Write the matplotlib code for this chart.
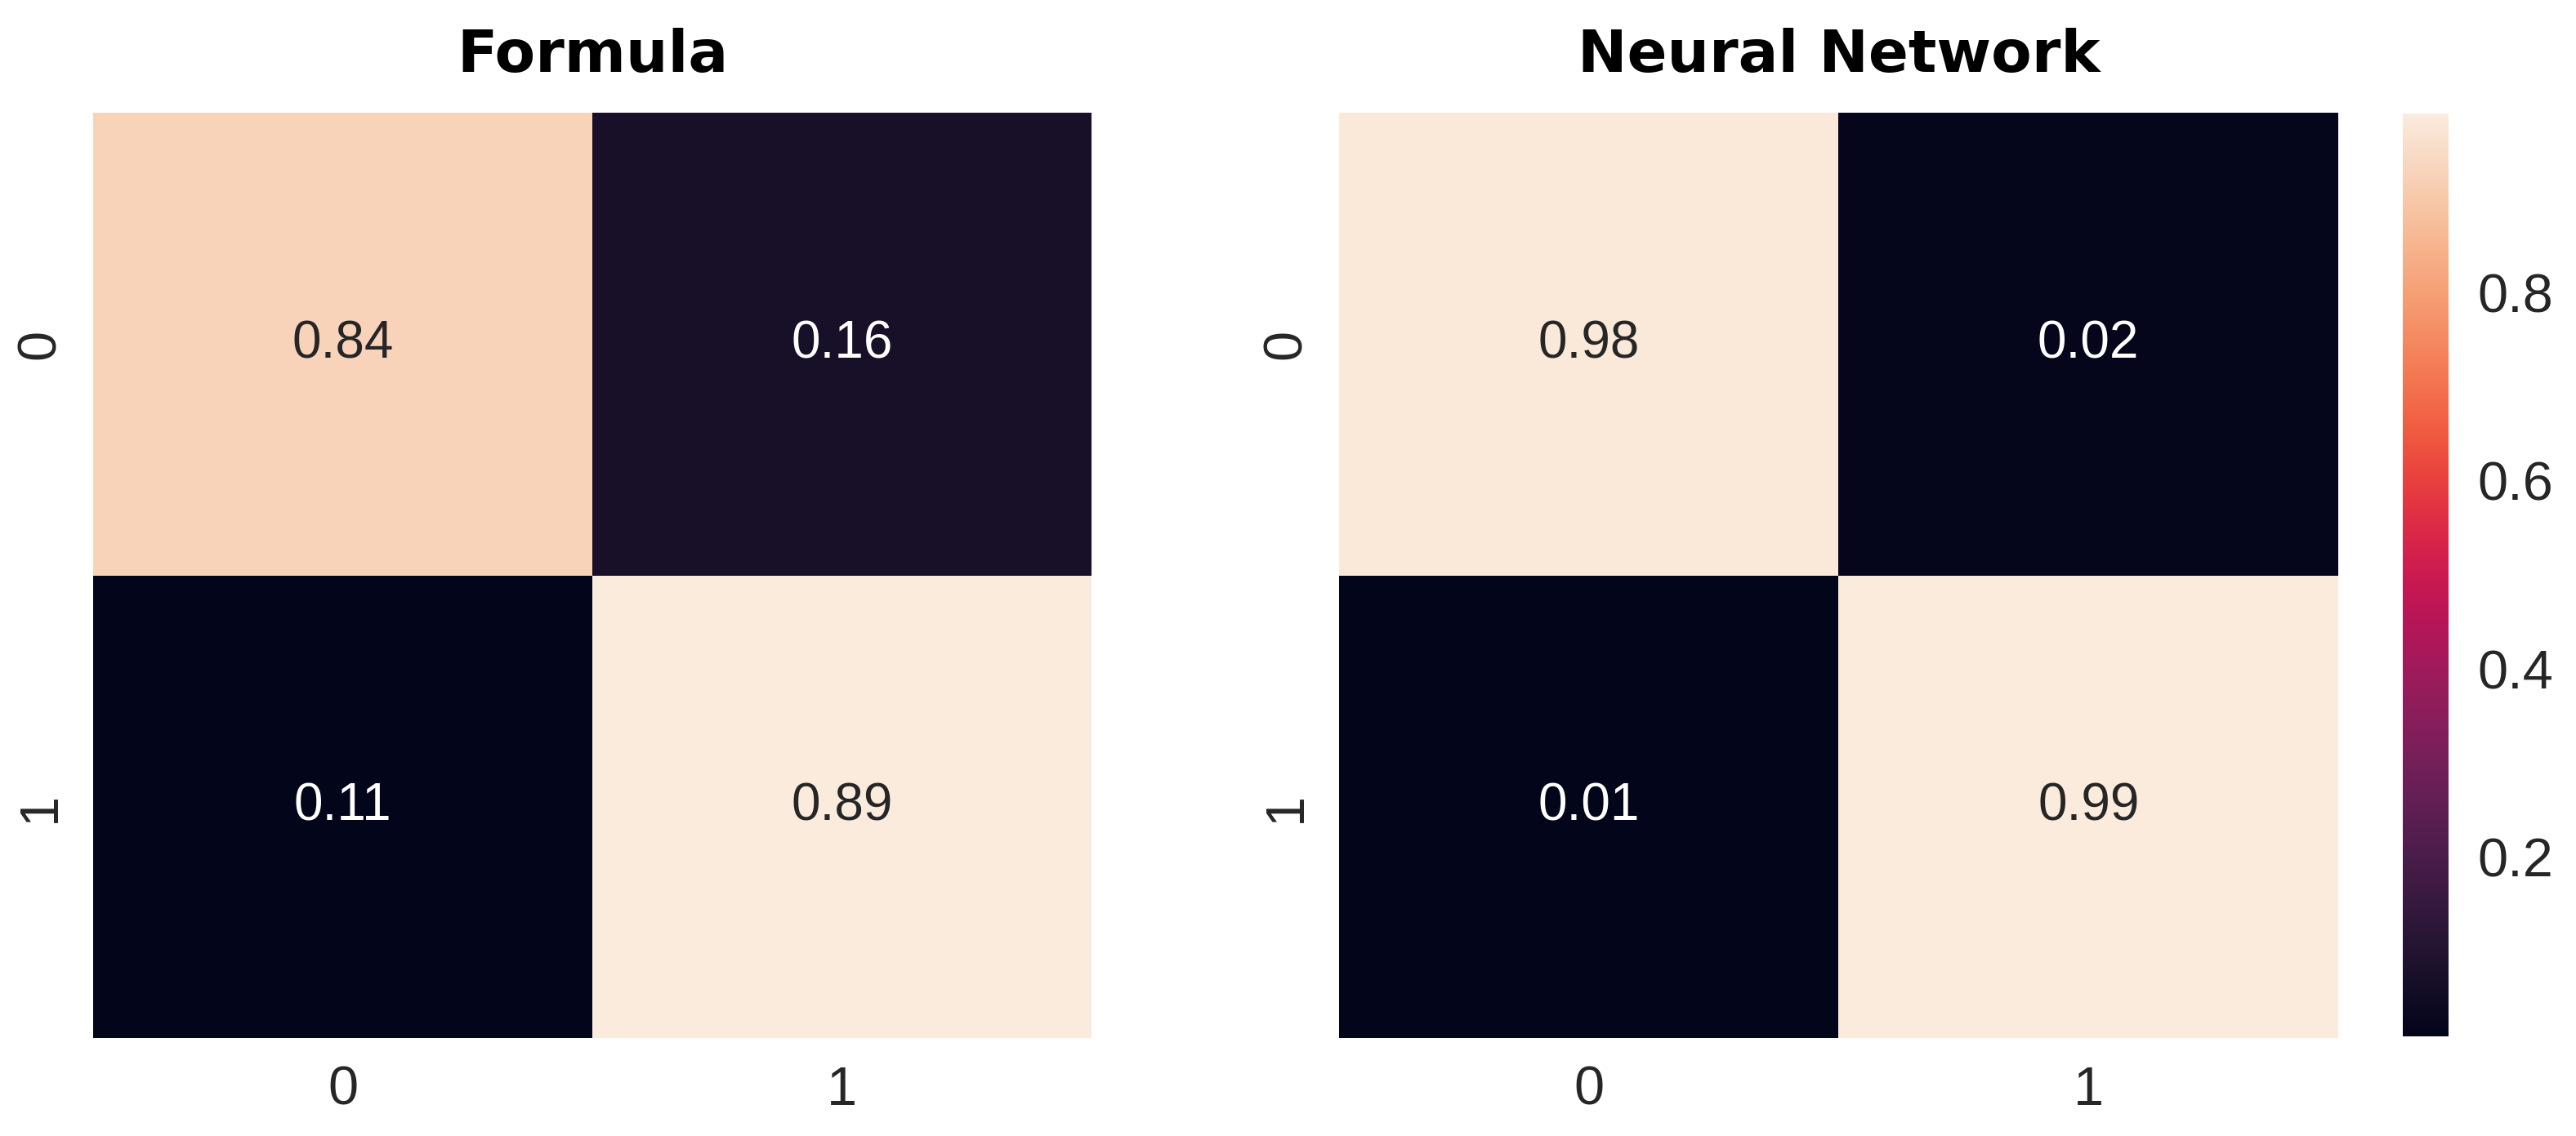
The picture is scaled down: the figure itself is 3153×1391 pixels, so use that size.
import numpy as np
import matplotlib
matplotlib.use("Agg")
import matplotlib.pyplot as plt
import seaborn as sns

titles = ["Formula", "Neural Network"]
formula_cm = [[0.84, 0.16], [0.11, 0.89]]
nn_cm = [[0.98, 0.02], [0.01, 0.99]]
labels = ["0", "1"]
cbar_ticks = [0.2, 0.4, 0.6, 0.8]

sns.set_style("white")
plt.rcParams['font.family'] = ['Liberation Sans', 'DejaVu Sans']

fig = plt.figure(figsize=(15.765, 6.955), dpi=200)
ax1 = fig.add_axes([0.0362, 0.086, 0.3876, 0.815])
ax2 = fig.add_axes([0.5198, 0.086, 0.3879, 0.815])
cax = fig.add_axes([0.9328, 0.088, 0.0176, 0.812])

annot_kw = {"fontsize": 23}
sns.heatmap(np.array(formula_cm), ax=ax1, annot=True, fmt=".2f", cmap="rocket",
            cbar=False, annot_kws=annot_kw, xticklabels=labels, yticklabels=labels)
sns.heatmap(np.array(nn_cm), ax=ax2, annot=True, fmt=".2f", cmap="rocket",
            cbar=True, cbar_ax=cax, annot_kws=annot_kw, xticklabels=labels, yticklabels=labels)

for ax, t in zip([ax1, ax2], titles):
    ax.set_title(t, fontsize=26, fontweight="bold", family="DejaVu Sans", color="black", pad=18)
    ax.tick_params(axis="both", length=0, labelsize=24)
    ax.tick_params(axis="x", pad=12)
    ax.tick_params(axis="y", pad=12)
    for lab in ax.get_yticklabels():
        lab.set_rotation(90)
        lab.set_va("center")

cax.set_yticks(cbar_ticks)
cax.tick_params(length=0, labelsize=24, pad=13)
cax.yaxis.set_major_formatter(matplotlib.ticker.FormatStrFormatter("%.1f"))

fig.savefig("out.png", dpi=200)
